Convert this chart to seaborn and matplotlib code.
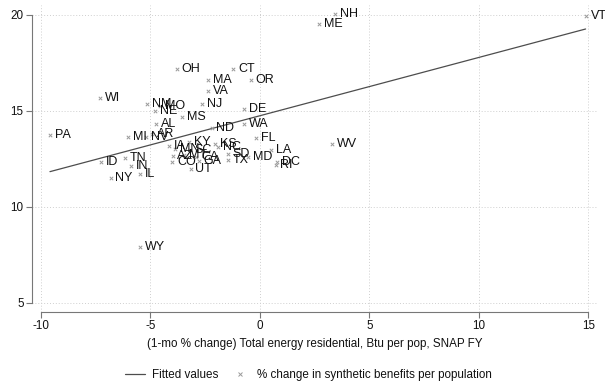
import matplotlib
matplotlib.use("Agg")
import matplotlib.pyplot as plt
import seaborn as sns
import pandas as pd
from matplotlib.lines import Line2D

states = ["OH", "MA", "VA", "WI", "NM", "NE", "MO", "NJ", "AL", "MS", "PA", "MI",
          "NV", "AR", "ND", "DE", "WA", "FL", "CT", "OR", "ME", "NH", "WV", "LA",
          "MD", "RI", "DC", "VT", "ID", "TN", "IN", "NY", "IL", "WY", "IA", "KY",
          "KS", "NC", "MN", "SC", "AZ", "MT", "CA", "GA", "CO", "UT", "SD", "TX"]
energy_change = [-3.80, -2.36, -2.36, -7.31, -5.17, -4.79, -4.57, -2.66, -4.75, -3.55, -9.59, -6.04,
                 -5.22, -4.93, -2.21, -0.72, -0.72, -0.18, -1.22, -0.43, 2.69, 3.41, 3.27, 0.49,
                 -0.53, 0.71, 0.80, 14.87, -7.27, -6.15, -5.90, -6.82, -5.48, -5.48, -4.16, -3.23,
                 -2.05, -1.90, -3.88, -3.20, -3.99, -3.45, -2.92, -2.79, -4.00, -3.17, -1.47, -1.47]
benefit_change = [17.19, 16.61, 16.06, 15.69, 15.38, 15.02, 15.26, 15.35, 14.32, 14.67, 13.75, 13.65,
                  13.66, 13.80, 14.10, 15.09, 14.31, 13.61, 17.19, 16.61, 19.53, 20.05, 13.30, 12.97,
                  12.62, 12.19, 12.34, 19.93, 12.34, 12.57, 12.14, 11.51, 11.70, 7.90, 13.16, 13.37,
                  13.30, 13.15, 13.02, 12.97, 12.66, 12.70, 12.58, 12.40, 12.33, 12.00, 12.74, 12.45]

fit_x = [-9.59, 14.87]
fit_y = [11.84, 19.27]

x_ticks = [-10, -5, 0, 5, 10, 15]
y_ticks = [5, 10, 15, 20]

df = pd.DataFrame({"state": states, "x": energy_change, "y": benefit_change})
fit_df = pd.DataFrame({"x": fit_x, "y": fit_y})

sns.set_theme(style="white")
plt.rcParams["font.family"] = ["Liberation Sans", "DejaVu Sans"]
plt.rcParams["axes.unicode_minus"] = False

fig = plt.figure(figsize=(6.05, 3.85), dpi=100)
ax = fig.add_axes([32 / 605, 1 - 312 / 385, (597 - 32) / 605, (312 - 5) / 385])

fs = 8.4
fs_lab = 9.0
sns.lineplot(data=fit_df, x="x", y="y", ax=ax, color="#4d4d4d", linewidth=0.9, zorder=3)
sns.scatterplot(data=df, x="x", y="y", ax=ax, marker="x", color="#9a9a9a", s=6,
                linewidth=0.7, zorder=4)
for s, xv, yv in zip(states, energy_change, benefit_change):
    ax.annotate(s, (xv, yv), xytext=(3.5, 0), textcoords="offset points",
                va="center", ha="left", fontsize=fs_lab, color="#111111", zorder=5)

ax.set_xlim(-10.41, 15.39)
ax.set_ylim(4.53, 20.52)
ax.set_xticks(x_ticks)
ax.set_yticks(y_ticks)
ax.grid(True, linestyle=(0, (1, 2)), color="#cfcfcf", linewidth=0.7)
ax.set_axisbelow(True)
ax.tick_params(axis="both", direction="out", length=4, width=0.8, color="#777777",
               labelsize=fs, pad=2, left=True, bottom=True, labelcolor="#111111")
ax.set_xlabel("(1-mo % change) Total energy residential, Btu per pop, SNAP FY",
              fontsize=fs, color="#111111", labelpad=4)
ax.set_ylabel("")
sns.despine(ax=ax, trim=True)
for sp in ["left", "bottom"]:
    ax.spines[sp].set_color("#777777")
    ax.spines[sp].set_linewidth(0.8)

handles = [Line2D([0], [0], color="#4d4d4d", lw=0.9),
           Line2D([0], [0], marker="x", color="#9a9a9a", lw=0, markersize=2.5, markeredgewidth=0.7)]
fig.legend(handles, ["Fitted values", "% change in synthetic benefits per population"],
           loc="center", bbox_to_anchor=(0.51, 1 - 375 / 385), ncol=2, frameon=False,
           fontsize=fs, handlelength=1.7, columnspacing=1.0, handletextpad=0.6,
           labelcolor="#111111")

fig.savefig("out.png", dpi=100)
